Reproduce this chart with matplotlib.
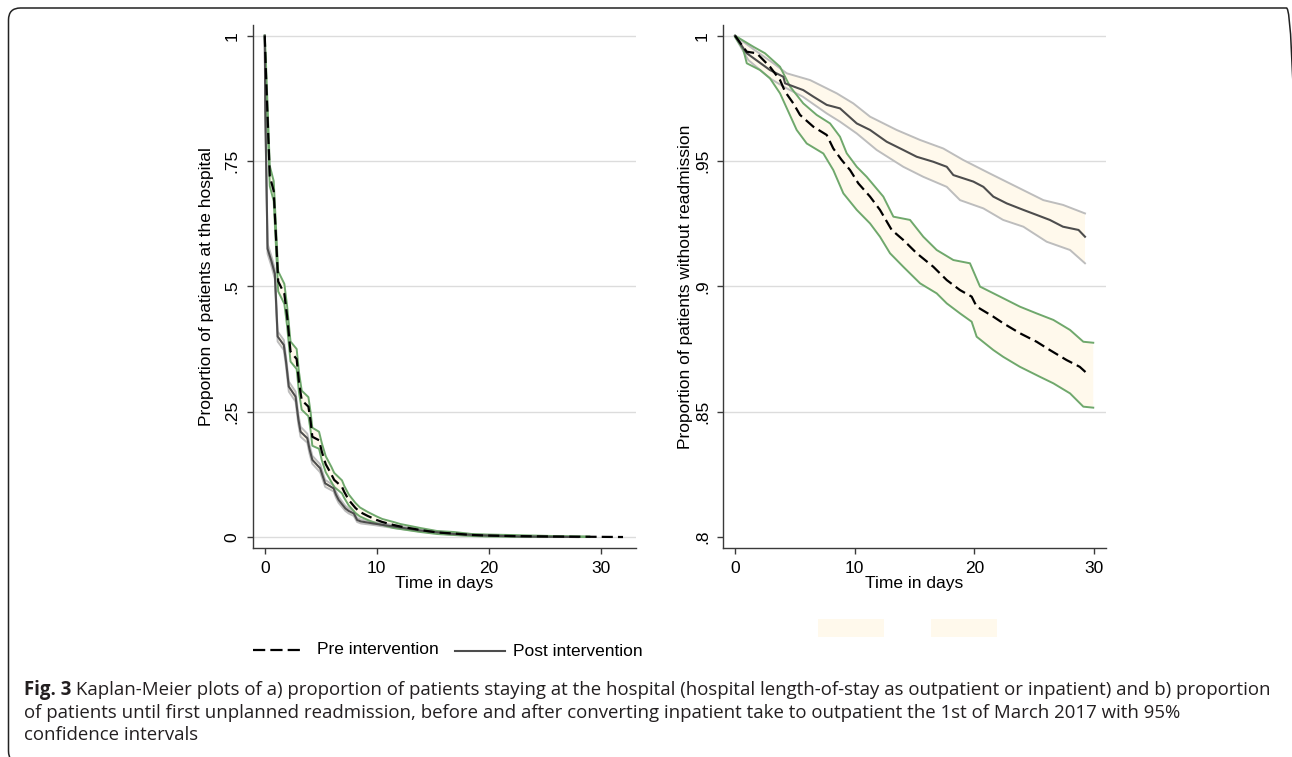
import matplotlib
matplotlib.use("Agg")
import matplotlib.pyplot as plt
from matplotlib.patches import FancyBboxPatch, Rectangle
from matplotlib.lines import Line2D
from matplotlib.transforms import IdentityTransform

# ---------------- data: panel a (length of stay) ----------------
pre_t = [0, 0.1, 0.45, 0.8, 1.0, 1.2, 1.75, 2.0, 2.3, 2.85, 3.05, 3.3, 3.9, 4.1, 4.25, 4.85, 5.1, 5.45, 5.95, 6.2,
         6.9, 7.1, 7.5, 8.1, 8.5, 9.2, 10.0, 10.5, 11.5, 12.1, 13.9, 15.4, 16.9, 18.5, 19.8, 22.0, 25.8, 29.0, 32.0]
pre_s = [1.0, 0.93, 0.72, 0.69, 0.60, 0.51, 0.485, 0.44, 0.37, 0.355, 0.31, 0.273, 0.26, 0.23, 0.20, 0.193, 0.17, 0.145, 0.125, 0.114,
         0.10, 0.09, 0.074, 0.058, 0.05, 0.042, 0.034, 0.03, 0.024, 0.021, 0.014, 0.009, 0.007, 0.004, 0.003, 0.002, 0.001, 0.0005, 0.0]
pre_hi = [1.0, 0.95, 0.74, 0.71, 0.62, 0.53, 0.505, 0.46, 0.39, 0.375, 0.33, 0.292, 0.279, 0.248, 0.218, 0.21, 0.187, 0.161, 0.14, 0.128,
          0.113, 0.102, 0.085, 0.068, 0.059, 0.05, 0.041, 0.036, 0.03, 0.026, 0.018, 0.012, 0.01, 0.006, 0.005, 0.004, 0.002, 0.0012, 0.0]
pre_lo = [1.0, 0.91, 0.70, 0.67, 0.58, 0.49, 0.465, 0.42, 0.35, 0.335, 0.29, 0.254, 0.241, 0.212, 0.182, 0.176, 0.153, 0.129, 0.11, 0.1,
          0.087, 0.078, 0.063, 0.048, 0.041, 0.034, 0.027, 0.024, 0.018, 0.016, 0.01, 0.006, 0.004, 0.002, 0.001, 0.0005, 0.0, 0.0, 0.0]

post_t = [0, 0.05, 0.25, 0.6, 0.9, 1.15, 1.7, 1.9, 2.15, 2.75, 3.0, 3.2, 3.8, 4.0, 4.25, 4.95, 5.2, 5.4, 6.15, 6.35,
          6.6, 7.2, 7.5, 7.95, 8.25, 8.6, 9.7, 11.5, 13.9, 16.9, 19.8, 22.8, 28.0]
post_s = [1.0, 0.85, 0.575, 0.55, 0.525, 0.40, 0.383, 0.35, 0.30, 0.28, 0.235, 0.21, 0.197, 0.175, 0.154, 0.137, 0.12, 0.107, 0.097, 0.085,
          0.074, 0.057, 0.052, 0.047, 0.034, 0.031, 0.027, 0.021, 0.013, 0.006, 0.003, 0.001, 0.0]
post_hi = [1.0, 0.86, 0.585, 0.56, 0.535, 0.41, 0.393, 0.36, 0.31, 0.29, 0.245, 0.22, 0.206, 0.184, 0.162, 0.145, 0.127, 0.114, 0.103, 0.091,
           0.08, 0.062, 0.057, 0.052, 0.038, 0.035, 0.03, 0.024, 0.015, 0.008, 0.004, 0.002, 0.0]
post_lo = [1.0, 0.84, 0.565, 0.54, 0.515, 0.39, 0.373, 0.34, 0.29, 0.27, 0.225, 0.20, 0.188, 0.166, 0.146, 0.129, 0.113, 0.1, 0.091, 0.079,
           0.068, 0.052, 0.047, 0.042, 0.03, 0.027, 0.024, 0.018, 0.011, 0.004, 0.002, 0.0, 0.0]

# ---------------- data: panel b (readmission) ----------------
r_post_t = [0, 0.98, 2.92, 4.04, 4.18, 5.7, 6.54, 7.66, 8.77, 10.17, 11.28, 12.67, 14.06, 15.18, 16.57, 17.69, 18.24,
            19.91, 20.75, 21.58, 22.7, 24.09, 25.2, 26.3, 27.4, 28.7, 29.24]
r_post_s = [1.0, 0.993, 0.9863, 0.9836, 0.981, 0.9783, 0.9757, 0.9724, 0.971, 0.965, 0.9624, 0.9577, 0.9544, 0.9517, 0.9497,
            0.9477, 0.9444, 0.9418, 0.9397, 0.9358, 0.9331, 0.9305, 0.9285, 0.9265, 0.9238, 0.9225, 0.9198]
r_post_hi_t = [0, 1.25, 3.2, 4.32, 6.27, 8.5, 9.88, 11.28, 13.5, 15.46, 17.4, 19.07, 21.3, 23.53, 25.76, 27.4, 29.24]
r_post_hi = [1.0, 0.9956, 0.989, 0.985, 0.9823, 0.977, 0.973, 0.9677, 0.9624, 0.9584, 0.955, 0.9504, 0.945, 0.9397, 0.9344, 0.9325, 0.9291]
r_post_lo_t = [0, 1.11, 2.92, 4.04, 5.65, 7.66, 8.77, 10.17, 11.84, 14.06, 15.73, 17.69, 18.8, 20.75, 22.4, 24.09, 26.04, 27.99, 29.24]
r_post_lo = [0.9995, 0.9903, 0.983, 0.9797, 0.9757, 0.969, 0.9657, 0.961, 0.9544, 0.9477, 0.9437, 0.9397, 0.9344, 0.9311,
             0.9265, 0.9238, 0.9178, 0.9145, 0.9092]

r_pre_t = [0, 0.98, 1.81, 2.92, 3.76, 4.18, 4.87, 5.43, 6.54, 7.66, 8.21, 8.91, 9.61, 10.3, 11.28, 12.11, 13.09, 14.06, 15.18,
           16.57, 17.69, 18.8, 19.77, 20.19, 21.58, 22.4, 23.8, 25.2, 26.3, 27.7, 28.8, 29.4]
r_pre_s = [1.0, 0.9936, 0.993, 0.9876, 0.9823, 0.9777, 0.973, 0.9684, 0.9637, 0.9604, 0.955, 0.9504, 0.9464, 0.9411, 0.9358,
           0.9305, 0.9225, 0.9185, 0.9132, 0.9078, 0.9025, 0.8985, 0.8959, 0.8919, 0.8879, 0.8853, 0.8813, 0.8779, 0.8746,
           0.8706, 0.8679, 0.8653]
r_pre_hi_t = [0, 1.53, 2.5, 3.76, 4.6, 5.7, 6.82, 7.94, 8.77, 9.33, 10.17, 11.0, 12.39, 13.23, 14.62, 15.73, 16.85, 18.24,
              19.63, 20.47, 22.14, 23.8, 25.2, 26.6, 27.99, 29.1, 29.93]
r_pre_hi = [1.0, 0.9956, 0.993, 0.9876, 0.9797, 0.973, 0.9684, 0.965, 0.9597, 0.9531, 0.9477, 0.9437, 0.9358, 0.9278, 0.9265,
            0.9198, 0.9145, 0.9105, 0.9092, 0.8999, 0.8959, 0.8919, 0.8892, 0.8866, 0.8826, 0.8779, 0.8775]
r_pre_lo_t = [0, 0.7, 0.98, 2.09, 2.92, 3.76, 5.15, 5.99, 7.38, 8.21, 9.05, 10.17, 11.28, 12.11, 12.95, 14.06, 15.46, 16.85,
              17.69, 18.8, 19.77, 20.19, 21.58, 22.4, 23.8, 25.48, 26.6, 27.99, 29.1, 29.93]
r_pre_lo = [0.9995, 0.9943, 0.989, 0.9863, 0.983, 0.977, 0.9624, 0.957, 0.953, 0.9464, 0.9371, 0.9305, 0.9251, 0.9198, 0.9132,
            0.9078, 0.9012, 0.8972, 0.8932, 0.8892, 0.8859, 0.8799, 0.8746, 0.8719, 0.8679, 0.8639, 0.8613, 0.8573, 0.852, 0.8516]

# ---------------- labels ----------------
xticks = [0, 10, 20, 30]
yticks_a = [0, 0.25, 0.5, 0.75, 1]
yticklabels_a = ["0", ".25", ".5", ".75", "1"]
yticks_b = [0.8, 0.85, 0.9, 0.95, 1]
yticklabels_b = [".8", ".85", ".9", ".95", "1"]
ylabel_a = "Proportion of patients at the hospital"
ylabel_b = "Proportion of patients without readmission"
xlabel = "Time in days"
legend_labels = ["Pre intervention", "Post intervention"]
caption_bold = "Fig. 3"
caption_lines = [
    " Kaplan-Meier plots of a) proportion of patients staying at the hospital (hospital length-of-stay as outpatient or inpatient) and b) proportion",
    "of patients until first unplanned readmission, before and after converting inpatient take to outpatient the 1st of March 2017 with 95%",
    "confidence intervals",
]

# ---------------- styles ----------------
FONT = ["Liberation Sans", "DejaVu Sans"]
CAPFONT = ["Open Sans", "DejaVu Sans"]
FILL = "#FFF9EC"
GREEN = "#6FA86C"
LGREY = "#BDBDBD"
DGREY = "#4D4D4D"
GRID = "#DCDCDC"
SPINE = "#3A3A3A"
DASH = (5.0, 2.3)
FS = 12.5

W, H = 1292, 757
fig = plt.figure(figsize=(W / 100, H / 100), dpi=100)
fig.patch.set_facecolor("white")


def fx(px):
    return px / W


def fy(py):
    return 1 - py / H


ax1 = fig.add_axes([fx(253), fy(547.7), (636 - 253) / W, (547.7 - 25) / H])
ax2 = fig.add_axes([fx(723.3), fy(547.7), (1105.7 - 723.3) / W, (547.7 - 25) / H])


def style(ax, yt, ytl, grid_ticks, ylabel, ylpad):
    for s in ["top", "right"]:
        ax.spines[s].set_visible(False)
    for s in ["left", "bottom"]:
        ax.spines[s].set_color(SPINE)
        ax.spines[s].set_linewidth(1.0)
    ax.set_xticks(xticks)
    ax.set_xticklabels([str(v) for v in xticks], fontsize=FS, family=FONT)
    ax.set_yticks(yt)
    ax.set_yticklabels(ytl, fontsize=FS, family=FONT, rotation=90, va="center")
    ax.tick_params(axis="both", direction="out", length=4.5, width=1.0, color=SPINE, pad=5)
    for g in grid_ticks:
        ax.axhline(g, color=GRID, lw=1.0, zorder=0)
    ax.set_xlabel(xlabel, fontsize=FS, family=FONT, labelpad=0)
    ax.set_ylabel(ylabel, fontsize=FS, family=FONT, labelpad=ylpad)


# panel a
style(ax1, yticks_a, yticklabels_a, [0, 0.25, 0.5, 0.75, 1], ylabel_a, 8)
ax1.set_xlim(-1.05, 33.16)
ax1.set_ylim(-0.0213, 1.0213)
ax1.fill(pre_t[:-1] + pre_t[-2::-1], pre_hi[:-1] + pre_lo[-2::-1], color=FILL, lw=0, zorder=1)
ax1.fill(post_t + post_t[::-1], post_hi + post_lo[::-1], color=FILL, lw=0, zorder=1)
ax1.plot(post_t, post_hi, color=LGREY, lw=1.4, zorder=2)
ax1.plot(post_t, post_lo, color=LGREY, lw=1.4, zorder=2)
ax1.plot(pre_t[:-1], pre_hi[:-1], color=GREEN, lw=1.4, zorder=2)
ax1.plot(pre_t[:-1], pre_lo[:-1], color=GREEN, lw=1.4, zorder=2)
ax1.plot(post_t, post_s, color=DGREY, lw=1.5, zorder=3)
ax1.plot(pre_t, pre_s, color="black", lw=1.6, dashes=DASH, zorder=4)

# panel b
style(ax2, yticks_b, yticklabels_b, [0.85, 0.9, 0.95, 1], ylabel_b, 1.5)
ax2.set_xlim(-0.98, 30.97)
ax2.set_ylim(0.79573, 1.00427)
ax2.fill(r_pre_hi_t + r_pre_lo_t[::-1], r_pre_hi + r_pre_lo[::-1], color=FILL, lw=0, zorder=1)
ax2.fill(r_post_hi_t + r_post_lo_t[::-1], r_post_hi + r_post_lo[::-1], color=FILL, lw=0, zorder=1)
ax2.plot(r_post_hi_t, r_post_hi, color=LGREY, lw=1.4, zorder=2)
ax2.plot(r_post_lo_t, r_post_lo, color=LGREY, lw=1.4, zorder=2)
ax2.plot(r_pre_hi_t, r_pre_hi, color=GREEN, lw=1.4, zorder=2)
ax2.plot(r_pre_lo_t, r_pre_lo, color=GREEN, lw=1.4, zorder=2)
ax2.plot(r_post_t, r_post_s, color=DGREY, lw=1.5, zorder=3)
ax2.plot(r_pre_t, r_pre_s, color="black", lw=1.6, dashes=DASH, zorder=4)

# legend (drawn as in the Stata export)
fig.add_artist(Line2D([fx(253), fx(303)], [fy(650), fy(650)], color="black", lw=1.6, dashes=(5.5, 2.3),
                      transform=fig.transFigure))
fig.text(fx(317), fy(650), legend_labels[0], fontsize=FS, family=FONT, va="center", ha="left")
fig.add_artist(Line2D([fx(455), fx(505)], [fy(651), fy(651)], color=DGREY, lw=1.5,
                      transform=fig.transFigure))
fig.text(fx(513), fy(652), legend_labels[1], fontsize=FS, family=FONT, va="center", ha="left")
for x0 in (818, 931):
    fig.add_artist(Rectangle((fx(x0), fy(637)), 66 / W, 18 / H, transform=fig.transFigure,
                             facecolor=FILL, edgecolor="none"))

# caption
CAPCOL = "#231F20"
CFS = 13.4
bold = fig.text(fx(24), fy(695), caption_bold, fontsize=CFS, family=CAPFONT, weight="bold",
                color=CAPCOL, va="baseline", ha="left")
fig.canvas.draw()
bb = bold.get_window_extent(renderer=fig.canvas.get_renderer())
fig.text(bb.x1 / W, fy(695), caption_lines[0], fontsize=CFS, family=CAPFONT, color=CAPCOL,
         va="baseline", ha="left")
fig.text(fx(24), fy(718), caption_lines[1], fontsize=CFS, family=CAPFONT, color=CAPCOL,
         va="baseline", ha="left")
fig.text(fx(24), fy(740.5), caption_lines[2], fontsize=CFS, family=CAPFONT, color=CAPCOL,
         va="baseline", ha="left")

# rounded page frame
frame = FancyBboxPatch((8.5, -6), 1290, 757 - 8 + 6, boxstyle="round,pad=0,rounding_size=12",
                       transform=IdentityTransform(), facecolor="none", edgecolor="#222222", lw=1.1)
fig.add_artist(frame)

fig.savefig("out.png", dpi=100)
